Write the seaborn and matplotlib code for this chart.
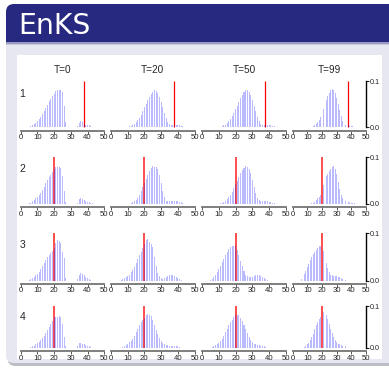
import numpy as np
import pandas as pd
import matplotlib
matplotlib.use("Agg")
import matplotlib.pyplot as plt
from matplotlib.patches import FancyBboxPatch, Rectangle
import seaborn as sns

# ---------------- data (histogram heights in units of 1e-3, one bar per integer) -------------
col_titles = ["T=0", "T=20", "T=50", "T=99"]
row_labels = ["1", "2", "3", "4"]
truth_values = [37.7, 20.0, 20.0, 20.0]
x_ticks = [0, 10, 20, 30, 40, 50]
y_ticks = [0.0, 0.1]
y_tick_labels = ["0.0", "0.1"]

# row 1
r1_t0_start = 6
r1_t0 = [2, 4, 7, 10, 14, 18, 23, 29, 35, 42, 49, 56, 62, 68, 73, 78, 80, 81, 81, 76, 45, 12,
         0, 0, 0, 0, 0, 0, 2, 9, 13, 11, 8, 6, 5, 4, 2]
r1_t20_start = 11
r1_t20 = [2, 3, 5, 8, 11, 15, 20, 27, 35, 43, 51, 59, 66, 72, 77, 80, 79, 74, 66, 55, 43, 31,
          20, 12, 7, 6, 5, 5, 5, 4, 4, 3, 2]
r1_t50_start = 11
r1_t50 = [1, 2, 4, 6, 9, 13, 18, 24, 31, 39, 47, 55, 63, 70, 76, 80, 80, 76, 69, 59, 47, 35,
          23, 14, 8, 6, 6, 5, 5, 4, 4, 3, 2, 1]
r1_t99_start = 14
r1_t99 = [2, 4, 7, 11, 16, 23, 31, 40, 50, 60, 68, 75, 80, 82, 80, 74, 64, 51, 37, 24, 14, 8,
          5, 4, 4, 3, 3, 2, 1]
# row 2
r2_t0_start = 5
r2_t0 = [2, 3, 6, 9, 12, 15, 19, 24, 30, 37, 44, 51, 57, 63, 69, 74, 79, 80, 79, 78, 60, 28, 4,
         0, 0, 0, 0, 0, 0, 3, 11, 13, 10, 8, 6, 5, 4, 3, 2]
r2_t20_start = 12
r2_t20 = [2, 4, 6, 9, 13, 19, 27, 36, 44, 53, 63, 71, 78, 81, 80, 80, 75, 62, 45, 28, 15, 7,
          6, 6, 7, 7, 7, 6, 6, 5, 4, 2]
r2_t50_start = 11
r2_t50 = [2, 3, 5, 7, 10, 14, 19, 26, 34, 42, 50, 58, 66, 73, 78, 82, 80, 75, 66, 52, 37, 23,
          13, 8, 7, 7, 7, 6, 6, 5, 4, 3, 2]
r2_t99_start = 13
r2_t99 = [2, 3, 5, 8, 12, 16, 20, 25, 40, 53, 60, 65, 70, 75, 79, 82, 76, 64, 48, 32, 20, 12,
          8, 6, 5, 4, 4, 3, 3, 2]
# row 3
r3_t0_start = 5
r3_t0 = [2, 4, 6, 8, 11, 15, 19, 25, 32, 38, 44, 49, 54, 58, 63, 70, 80, 86, 84, 79, 61, 47, 5,
         0, 0, 0, 0, 0, 0, 4, 13, 16, 14, 11, 8, 6, 4, 2]
r3_t20_start = 6
r3_t20 = [1, 3, 5, 7, 10, 13, 18, 23, 29, 37, 45, 54, 61, 68, 77, 85, 88, 82, 78, 72, 50, 32,
          17, 9, 5, 4, 6, 8, 10, 12, 13, 12, 10, 8, 6, 4, 2]
r3_t50_start = 5
r3_t50 = [2, 4, 8, 12, 18, 24, 31, 39, 46, 54, 61, 67, 72, 74, 74, 73, 64, 54, 41, 30, 20, 13,
          9, 7, 7, 8, 10, 12, 12, 11, 9, 7, 5, 3, 2]
r3_t99_start = 6
r3_t99 = [3, 8, 14, 21, 28, 36, 43, 50, 56, 61, 65, 70, 74, 74, 72, 63, 50, 38, 26, 18, 13, 11,
          10, 10, 9, 8, 7, 5, 4, 3, 2, 1]
# row 4
r4_t0_start = 6
r4_t0 = [2, 3, 5, 8, 11, 14, 18, 23, 29, 36, 43, 50, 57, 64, 73, 75, 74, 76, 75, 58, 25, 4,
         0, 0, 0, 0, 0, 0, 3, 11, 12, 10, 8, 6, 4, 3, 2]
r4_t20_start = 7
r4_t20 = [2, 4, 6, 9, 13, 17, 22, 29, 37, 46, 55, 62, 68, 72, 79, 82, 80, 77, 68, 56, 43, 32,
          23, 16, 12, 9, 7, 6, 5, 5, 4, 4, 3, 3, 2]
r4_t50_start = 6
r4_t50 = [2, 4, 6, 9, 12, 16, 22, 29, 37, 46, 54, 62, 68, 74, 79, 80, 78, 72, 64, 54, 45, 35,
          26, 18, 13, 9, 8, 7, 6, 5, 4, 3, 2]
r4_t99_start = 8
r4_t99 = [2, 4, 8, 12, 18, 26, 34, 44, 54, 63, 70, 75, 79, 86, 83, 78, 70, 58, 46, 35, 26, 18,
          13, 10, 8, 6, 5, 4, 3, 2]

hist_rows = [
    [(r1_t0_start, r1_t0), (r1_t20_start, r1_t20), (r1_t50_start, r1_t50), (r1_t99_start, r1_t99)],
    [(r2_t0_start, r2_t0), (r2_t20_start, r2_t20), (r2_t50_start, r2_t50), (r2_t99_start, r2_t99)],
    [(r3_t0_start, r3_t0), (r3_t20_start, r3_t20), (r3_t50_start, r3_t50), (r3_t99_start, r3_t99)],
    [(r4_t0_start, r4_t0), (r4_t20_start, r4_t20), (r4_t50_start, r4_t50), (r4_t99_start, r4_t99)],
]

# ---------------- layout (pixels) ----------------
W, H = 389, 368
col_px = [(20.7, 104.3), (111.0, 194.5), (202.3, 285.7), (292.7, 366.0)]
row_px = [(81.0, 127.3, 130.5), (157.3, 204.0, 207.0), (233.3, 280.7, 283.5), (306.3, 347.7, 351.0)]
row_label_y = [93.7, 169.0, 245.5, 317.0]
title_y = 70.0

sns.set_style("white")
plt.rcParams["font.family"] = ["Liberation Sans", "DejaVu Sans"]

fig = plt.figure(figsize=(W / 100, H / 100), dpi=100)
fig.patch.set_facecolor("white")

# slide background
bg = fig.add_axes([0, 0, 1, 1], zorder=-10)
bg.set_xlim(0, W)
bg.set_ylim(H, 0)
bg.axis("off")
bg.add_patch(FancyBboxPatch((7.5, 24), 400, 342, boxstyle="round,pad=0,rounding_size=8",
                            fc="#bdbdc6", ec="none"))
bg.add_patch(FancyBboxPatch((6, 20), 400, 343, boxstyle="round,pad=0,rounding_size=8",
                            fc="#e7e7f2", ec="none"))
bg.add_patch(FancyBboxPatch((6, 4), 400, 46, boxstyle="round,pad=0,rounding_size=8",
                            fc="#27287f", ec="none"))
bg.add_patch(Rectangle((6, 42), 400, 20, fc="#e7e7f2", ec="none"))
bg.add_patch(Rectangle((6, 42), 400, 1.5, fc="#9a9ac0", ec="none"))
bg.add_patch(Rectangle((6, 43.5), 400, 1.5, fc="#cacadf", ec="none"))
bg.add_patch(Rectangle((17, 55), 365, 304, fc="white", ec="none"))
bg.text(18.3, 34, "EnKS", color="white", fontsize=20.4, family="DejaVu Sans", va="baseline")

for ci, t in enumerate(col_titles):
    cx = (col_px[ci][0] + col_px[ci][1]) / 2
    bg.text(cx, title_y, t, fontsize=7.2, ha="center", va="center")
for ri, lab in enumerate(row_labels):
    bg.text(22.5, row_label_y[ri], lab, fontsize=7.5, ha="center", va="center")

for ri in range(4):
    top, zero, axis_y = row_px[ri]
    ymin = -0.1 * (axis_y - zero) / (zero - top)
    for ci in range(4):
        x0, x1 = col_px[ci]
        ax = fig.add_axes([x0 / W, 1 - axis_y / H, (x1 - x0) / W, (axis_y - top) / H], zorder=5)
        ax.set_facecolor("none")
        start, vals = hist_rows[ri][ci]
        df = pd.DataFrame({"x": np.arange(start, start + len(vals)),
                           "h": np.array(vals) / 1000.0})
        if ri == 0:
            ax.vlines(truth_values[ri], 0, 0.1, color="red", lw=0.9, zorder=0.5)
        else:
            ax.vlines(truth_values[ri], 0, 0.1, color="#ff2020", lw=1.4, alpha=0.8, zorder=0.5)
        sns.histplot(data=df, x="x", weights="h", discrete=True, shrink=0.6, stat="count",
                     color="#0000ff", alpha=0.27, edgecolor="none", linewidth=0, ax=ax)
        for p in ax.patches:
            p.set_zorder(3)
        ax.set_xlim(0, 50)
        ax.set_ylim(ymin, 0.1)
        ax.set_xlabel("")
        ax.set_ylabel("")
        for s in ["top", "left", "right"]:
            ax.spines[s].set_visible(False)
        ax.spines["bottom"].set_bounds(0, 50)
        ax.spines["bottom"].set_color("#747474")
        ax.spines["bottom"].set_linewidth(1.3)
        ax.set_xticks(x_ticks)
        ax.set_xticklabels([str(v) for v in x_ticks])
        ax.tick_params(axis="x", bottom=True, length=2.0, width=0.7, color="#555555",
                       labelsize=5.6, pad=0.6, direction="out")
        ax.set_yticks([])
        if ci == 3:
            ax.spines["right"].set_visible(True)
            ax.spines["right"].set_bounds(0, 0.1)
            ax.spines["right"].set_color("black")
            ax.spines["right"].set_linewidth(1.0)
            ax.yaxis.tick_right()
            ax.set_yticks(y_ticks)
            ax.set_yticklabels(y_tick_labels)
            ax.tick_params(axis="y", right=True, left=False, length=2.0, width=0.8,
                           labelsize=5.2, pad=0.5, direction="out")

fig.savefig("out.png", dpi=100)
